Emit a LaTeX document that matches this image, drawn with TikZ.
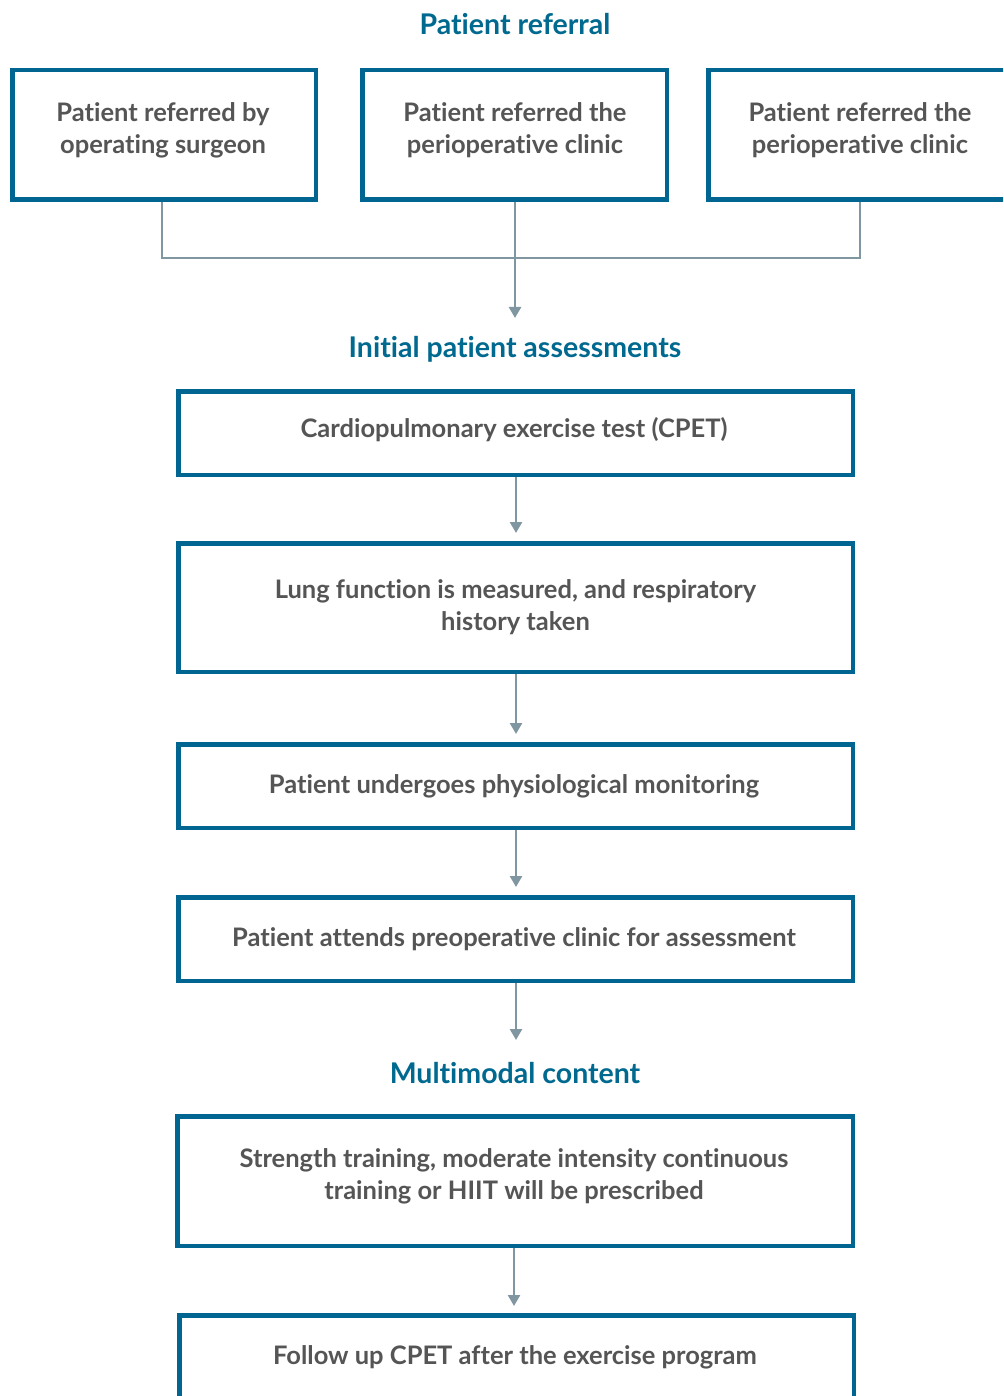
\documentclass[tikz,border=0pt]{standalone}
\usepackage{fontspec}
\setmainfont{Lato}[Ligatures={NoCommon}]
\usetikzlibrary{arrows.meta}
\definecolor{boxblue}{HTML}{006590}
\definecolor{titleblue}{HTML}{00698F}
\definecolor{bodygray}{HTML}{555555}
\definecolor{linegray}{HTML}{8097A2}
\begin{document}
\begin{tikzpicture}[x=1pt,y=-1pt,
  box/.style={draw=boxblue,line width=4.5pt,fill=white,rectangle,inner sep=0pt,
    font=\fontsize{25.5}{32}\selectfont\bfseries,text=bodygray,align=center},
  boxtext/.style={inner sep=0pt,font=\fontsize{25.5}{32}\selectfont\bfseries,text=bodygray,align=center},
  title/.style={font=\fontsize{28.5}{32}\selectfont\bfseries,text=titleblue,inner sep=0pt},
  conn/.style={draw=linegray,line width=2.5pt},
  arr/.style={conn,-{Triangle[length=11pt,width=12pt]}}
]
\clip (0,0) rectangle (1003,1396);
\fill[white] (0,0) rectangle (1003,1396);

\node[title] (t1) at (515,24) {Patient referral};
\node[box,minimum width=303.5pt,minimum height=129.5pt] (r1) at (164,135) {};
\node[box,minimum width=304.5pt,minimum height=129.5pt] (r2) at (514.5,135) {};
\node[box,minimum width=303.5pt,minimum height=129.5pt] (r3) at (860,135) {};
\node[boxtext] (r1t) at (163,130) {Patient referred by\\operating surgeon};
\node[boxtext] (r2t) at (515,130) {Patient referred the\\perioperative clinic};
\node[boxtext] (r3t) at (860,130) {Patient referred the\\perioperative clinic};
\coordinate (j) at (515,258);
\coordinate (t2top) at (515,318);

\draw[conn] (r1.south -| 162,0) |- (j) -| (r3.south -| 860,0);
\draw[arr] (r2.south -| j) -- (t2top);

\node[title] (t2) at (515,349) {Initial patient assessments};
\node[box,minimum width=674.5pt,minimum height=83.5pt] (a) at (515.5,433) {};
\node[boxtext] (at) at (514,430) {Cardiopulmonary exercise test (CPET)};
\node[box,minimum width=674.5pt,minimum height=128.5pt] (b) at (515.5,607.5) {Lung function is measured, and respiratory\\history taken};
\node[box,minimum width=674.5pt,minimum height=83.5pt] (c) at (515.5,786) {};
\node[boxtext] (ct) at (514,786) {Patient undergoes physiological monitoring};
\node[box,minimum width=674.5pt,minimum height=83.5pt] (d) at (515.5,939) {};
\node[boxtext] (dt) at (514,939) {Patient attends preoperative clinic for assessment};
\coordinate (t3top) at (515,1040);
\node[title] (t3) at (515,1073) {Multimodal content};
\node[box,minimum width=675.5pt,minimum height=129.5pt] (e) at (515,1181) {};
\node[boxtext] (et) at (514,1176) {Strength training, moderate intensity continuous\\training or HIIT will be prescribed};
\node[box,minimum width=674.5pt,minimum height=83.5pt] (f) at (516.5,1357) {};
\node[boxtext] (ft) at (515,1357) {Follow up CPET after the exercise program};

\draw[arr,shorten >=8pt] (a.south -| 516,0) -- (b.north -| 516,0);
\draw[arr,shorten >=8pt] (b.south -| 516,0) -- (c.north -| 516,0);
\draw[arr,shorten >=8pt] (c.south -| 516,0) -- (d.north -| 516,0);
\draw[arr] (d.south -| 516,0) -- (t3top -| 516,0);
\draw[arr,shorten >=7pt] (e.south -| 514,0) -- (f.north -| 514,0);
\end{tikzpicture}
\end{document}
